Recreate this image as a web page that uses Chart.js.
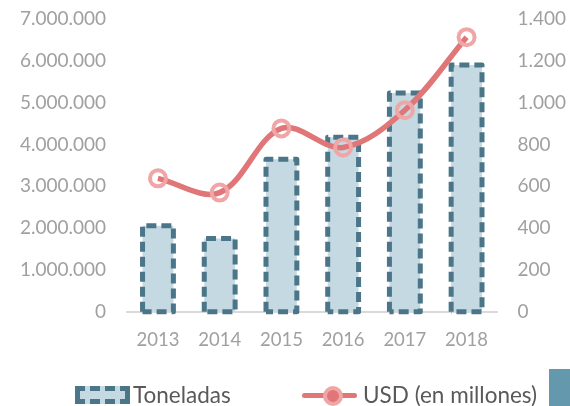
<!DOCTYPE html>
<html>
<head>
<meta charset="utf-8">
<script src="https://cdn.jsdelivr.net/npm/chart.js@4/dist/chart.umd.min.js"></script>
<style>
  html, body { margin: 0; padding: 0; background: #fff; }
  #wrap { position: relative; width: 570px; height: 406px; overflow: hidden; font-family: Lato, "Open Sans", sans-serif; }
  #c { position: absolute; left: 0; top: 0; }
  .lg { position: absolute; font-size: 22.5px; color: #595959; line-height: 24px; white-space: nowrap; }
  .ico-bar { position: absolute; left: 75px; top: 386px; width: 45px; height: 8px; border: 5px dashed #4b7588; background: #c4d9e1; }
  .ico-line { position: absolute; left: 302px; top: 393px; width: 55px; height: 5px; background: #e07678; border-radius: 3px; }
  .ico-dot { position: absolute; left: 323px; top: 386px; width: 12px; height: 12px; border: 4px solid #f0a6a6; border-radius: 50%; background: #e07678; }
  .ico-third { position: absolute; left: 549px; top: 369px; width: 30px; height: 40px; background: #6499ad; }
</style>
</head>
<body>
<div id="wrap">
  <canvas id="c" width="570" height="406"></canvas>
  <div class="ico-bar"></div>
  <div class="lg" style="left:133px; top:383px;">Toneladas</div>
  <div class="ico-line"></div>
  <div class="ico-dot"></div>
  <div class="lg" style="left:363px; top:383px;">USD (en millones)</div>
  <div class="ico-third"></div>
</div>
<script>
const categories = ['2013', '2014', '2015', '2016', '2017', '2018'];
const toneladas = [2060000, 1750000, 3650000, 4170000, 5230000, 5900000];
const usdMillones = [638, 570, 877, 786, 964, 1313];
const leftTicks = [0, 1000000, 2000000, 3000000, 4000000, 5000000, 6000000, 7000000];
const rightTicks = [0, 200, 400, 600, 800, 1000, 1200, 1400];

const fmt = v => Number(v).toLocaleString('de-DE');

const dashedBars = {
  id: 'dashedBars',
  afterDatasetDraw(chart, args) {
    if (args.index !== 0) return;
    const ctx = chart.ctx;
    const meta = chart.getDatasetMeta(0);
    ctx.save();
    ctx.strokeStyle = '#4b7588';
    ctx.lineWidth = 5;
    ctx.setLineDash([10, 5]);
    ctx.lineJoin = 'round';
    meta.data.forEach(el => {
      const p = el.getProps(['x', 'y', 'base', 'width'], true);
      const l = p.x - p.width / 2, r = p.x + p.width / 2;
      ctx.beginPath();
      ctx.moveTo(l, p.base);
      ctx.lineTo(l, p.y);
      ctx.lineTo(r, p.y);
      ctx.lineTo(r, p.base);
      ctx.lineTo(l, p.base);
      ctx.stroke();
    });
    ctx.restore();
  }
};

const topFit = ax => { ax.paddingTop = 19; };

function draw() {
  new Chart(document.getElementById('c'), {
    data: {
      labels: categories,
      datasets: [
        {
          type: 'bar',
          label: 'Toneladas',
          data: toneladas,
          backgroundColor: '#c4d9e1',
          borderWidth: 0,
          barPercentage: 0.5,
          categoryPercentage: 1.0,
          yAxisID: 'y',
          order: 1
        },
        {
          type: 'line',
          label: 'USD (en millones)',
          data: usdMillones,
          borderColor: '#e07678',
          borderWidth: 5.5,
          tension: 0.35,
          pointRadius: 8,
          pointBorderWidth: 4,
          pointBorderColor: '#f0a6a6',
          pointBackgroundColor: 'rgba(0,0,0,0)',
          yAxisID: 'y1',
          order: 0
        }
      ]
    },
    options: {
      responsive: false,
      animation: false,
      layout: { padding: { left: -1, right: -16, top: 0, bottom: 38 } },
      plugins: { legend: { display: false }, tooltip: { enabled: false } },
      scales: {
        x: {
          grid: { display: false, drawTicks: false },
          border: { display: true, color: '#d9d9d9', width: 2 },
          ticks: { color: '#a0a0a0', font: { family: 'Lato', size: 18.5 }, padding: 17 }
        },
        y: {
          position: 'left',
          min: 0, max: 7000000,
          afterBuildTicks: ax => { ax.ticks = leftTicks.map(v => ({ value: v })); },
          afterFit: topFit,
          grid: { display: false, drawTicks: false },
          border: { display: false },
          ticks: { color: '#a0a0a0', font: { family: 'Lato', size: 19 }, padding: 21, callback: v => fmt(v) }
        },
        y1: {
          position: 'right',
          min: 0, max: 1400,
          afterBuildTicks: ax => { ax.ticks = rightTicks.map(v => ({ value: v })); },
          afterFit: topFit,
          grid: { display: false, drawTicks: false },
          border: { display: false },
          ticks: { color: '#a0a0a0', font: { family: 'Lato', size: 19 }, padding: 20, callback: v => fmt(v) }
        }
      }
    },
    plugins: [dashedBars]
  });
}

document.fonts.load('19px Lato').then(draw, draw);
</script>
</body>
</html>
